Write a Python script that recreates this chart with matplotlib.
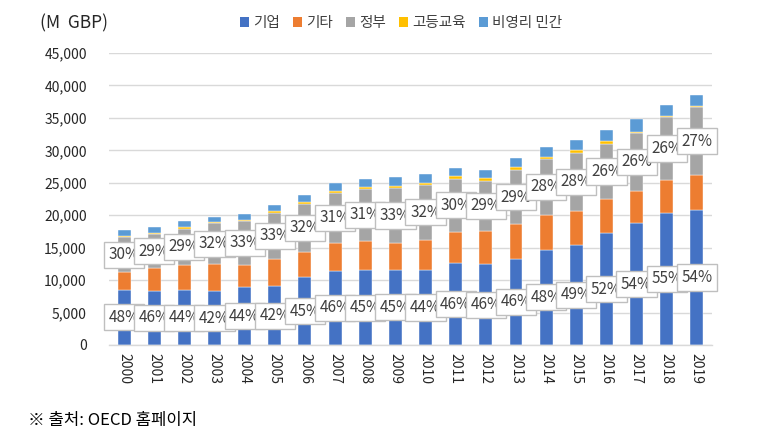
import numpy as np
import matplotlib
matplotlib.use('Agg')
import matplotlib.pyplot as plt
from matplotlib.patches import Patch
from matplotlib.ticker import FuncFormatter

plt.rcParams['font.family'] = ['Noto Sans CJK KR', 'DejaVu Sans']

years = [str(y) for y in range(2000, 2020)]

# R&D funding by source (M GBP)
business = [8500, 8390, 8430, 8300, 8880, 9060, 10400, 11460, 11510, 11630,
            11570, 12570, 12410, 13260, 14670, 15450, 17200, 18780, 20340, 20810]
other = [2760, 3420, 3940, 4120, 3520, 4210, 3980, 4300, 4560, 4050,
         4670, 4880, 5100, 5360, 5430, 5260, 5240, 4910, 5120, 5420]
government = [5310, 5290, 5550, 6330, 6660, 7120, 7400, 7730, 7930, 8530,
              8420, 8200, 7820, 8360, 8560, 8830, 8600, 9040, 9620, 10400]
higher_ed = [200, 200, 200, 200, 200, 250, 300, 250, 350, 300,
             360, 400, 360, 400, 360, 460, 400, 150, 200, 150]
nonprofit = [930, 930, 1030, 820, 930, 930, 1030, 1180, 1230, 1330,
             1280, 1280, 1280, 1440, 1540, 1540, 1640, 1900, 1700, 1750]

business_pct = [48, 46, 44, 42, 44, 42, 45, 46, 45, 45,
                44, 46, 46, 46, 48, 49, 52, 54, 55, 54]
government_pct = [30, 29, 29, 32, 33, 33, 32, 31, 31, 33,
                  32, 30, 29, 29, 28, 28, 26, 26, 26, 27]

series = [
    ('기업', business, '#4472C4'),
    ('기타', other, '#ED7D31'),
    ('정부', government, '#A5A5A5'),
    ('고등교육', higher_ed, '#FFC000'),
    ('비영리 민간', nonprofit, '#5B9BD5'),
]

fig = plt.figure(figsize=(7.61, 4.46), dpi=100)
ax = fig.add_axes([0.1432, 0.2265, 0.7924, 0.6547])

x = np.arange(len(years))
bottom = np.zeros(len(years))
for name, vals, color in series:
    vals = np.array(vals, dtype=float)
    ax.bar(x, vals, width=0.43, bottom=bottom, color=color,
           edgecolor='white', linewidth=0.3, zorder=2)
    bottom += vals

# percentage labels at the middle of the business and government segments
box = dict(boxstyle='square,pad=0.3', facecolor='white', edgecolor='#BFBFBF', linewidth=1)
b = np.array(business, dtype=float)
o = np.array(other, dtype=float)
g = np.array(government, dtype=float)
for i in range(len(years)):
    ax.text(x[i], b[i] / 2, f'{business_pct[i]}%', ha='center', va='center',
            fontsize=11, color='#404040', bbox=box, zorder=5)
for i in range(len(years)):
    ax.text(x[i], b[i] + o[i] + g[i] / 2, f'{government_pct[i]}%', ha='center', va='center',
            fontsize=11, color='#404040', bbox=box, zorder=5)

ax.set_xlim(-0.5, len(years) - 0.5)
ax.set_ylim(0, 45000)
ax.set_yticks(np.arange(0, 45001, 5000))
ax.yaxis.set_major_formatter(FuncFormatter(lambda v, p: f'{int(v):,}'))
ax.set_xticks(x)
ax.set_xticklabels(years, rotation=-90, fontsize=10, color='#262626')
ax.tick_params(axis='y', length=0, pad=16, labelsize=10, labelcolor='#262626')
ax.tick_params(axis='x', length=0, pad=6)
ax.grid(axis='y', color='#D9D9D9', linewidth=1, zorder=0)
ax.set_axisbelow(True)
for s in ['top', 'right', 'left']:
    ax.spines[s].set_visible(False)
ax.spines['bottom'].set_color('#D9D9D9')
ax.spines['bottom'].set_linewidth(1)

fig.text(0.052, 0.948, '(M  GBP)', fontsize=12.5, color='#262626', va='center', ha='left')

handles = [Patch(facecolor=c, label=n) for n, _, c in series]
fig.legend(handles=handles, loc='center', bbox_to_anchor=(0.527, 0.948), ncol=5,
           frameon=False, fontsize=10.5, handlelength=0.6, handleheight=0.6,
           handletextpad=0.3, columnspacing=0.9, labelcolor='#404040')

fig.text(0.037, 0.058, '※ 출처: OECD 홈페이지', fontsize=12, color='#000000',
         va='center', ha='left')

fig.savefig('out.png', dpi=100)
